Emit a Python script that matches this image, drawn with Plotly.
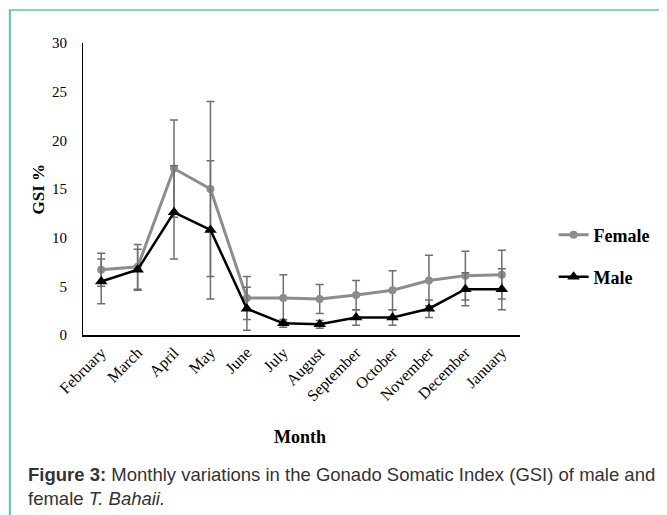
import plotly.graph_objects as go

months = ["February", "March", "April", "May", "June", "July", "August",
          "September", "October", "November", "December", "January"]
female = [6.7, 7.0, 17.1, 15.0, 3.8, 3.8, 3.7, 4.1, 4.6, 5.6, 6.1, 6.2]
female_err = [1.7, 2.3, 5.0, 9.0, 2.2, 2.4, 1.5, 1.5, 2.0, 2.6, 2.5, 2.5]
male = [5.5, 6.7, 12.6, 10.8, 2.7, 1.2, 1.1, 1.8, 1.8, 2.7, 4.7, 4.7]
male_err = [2.3, 2.1, 4.8, 7.1, 2.2, 0.4, 0.4, 0.8, 0.8, 0.9, 1.7, 2.1]
y_ticks = [0, 5, 10, 15, 20, 25, 30]

OFF = 8  # page body margin
W, H = 667 - OFF, 515 - OFF
# target screen coords of plot area: x 83..525, y 43..335
L, T = 83 - OFF, 43 - OFF
pw, ph = 442, 292
R = W - L - pw
B = H - T - ph

def px(x):
    return (x - OFF - L) / pw

def py(y):
    return (T + ph - (y - OFF)) / ph

serif = "Liberation Serif, Times New Roman, serif"
sans = "Liberation Sans, Arial, sans-serif"

fig = go.Figure()
fig.add_trace(go.Scatter(
    x=months, y=female, name="<b>Female</b>", mode="lines+markers",
    line=dict(color="#8c8c8c", width=3),
    marker=dict(symbol="circle", size=8, color="#8c8c8c"),
    error_y=dict(type="data", array=female_err, visible=True,
                 color="#6e6e6e", thickness=1.5, width=4),
    legend="legend",
))
fig.add_trace(go.Scatter(
    x=months, y=male, name="<b>Male</b>", mode="lines+markers",
    line=dict(color="black", width=2.5),
    marker=dict(symbol="triangle-up", size=11, color="black"),
    error_y=dict(type="data", array=male_err, visible=True,
                 color="#6e6e6e", thickness=1.5, width=4),
    legend="legend2",
))

fig.update_layout(
    width=W, height=H,
    margin=dict(l=L, r=R, t=T, b=B),
    paper_bgcolor="white", plot_bgcolor="white",
    showlegend=True,
    legend=dict(x=px(559), y=py(235), yanchor="middle", xanchor="left",
                font=dict(family=serif, size=18, color="black"),
                bgcolor="rgba(0,0,0,0)"),
    legend2=dict(x=px(559), y=py(277), yanchor="middle", xanchor="left",
                 font=dict(family=serif, size=18, color="black"),
                 bgcolor="rgba(0,0,0,0)"),
    xaxis=dict(type="category", range=[-0.5, 11.5], showgrid=False,
               showline=True, linecolor="black", linewidth=2, ticks="",
               tickangle=-45, tickfont=dict(family=serif, size=16, color="black"),
               zeroline=False),
    yaxis=dict(range=[0, 30], tickvals=y_ticks, showgrid=False,
               showline=True, linecolor="black", linewidth=1, ticks="",
               ticklabelstandoff=12,
               tickfont=dict(family=serif, size=15, color="black"),
               zeroline=False),
    shapes=[
        dict(type="line", xref="paper", yref="paper",
             x0=px(8), x1=px(667), y0=py(10), y1=py(10),
             line=dict(color="#7dd6c6", width=2)),
        dict(type="line", xref="paper", yref="paper",
             x0=px(9), x1=px(9), y0=py(10), y1=py(515),
             line=dict(color="#5cbfb0", width=2)),
    ],
    annotations=[
        dict(text="<b>GSI %</b>", xref="paper", yref="paper",
             x=px(37), y=py(189), textangle=-90, showarrow=False,
             font=dict(family=serif, size=17, color="black"),
             xanchor="center", yanchor="middle"),
        dict(text="<b>Month</b>", xref="paper", yref="paper",
             x=px(302), y=py(437), showarrow=False,
             font=dict(family=serif, size=18, color="black"),
             xanchor="center", yanchor="middle"),
        dict(text="<b>Figure 3:</b> Monthly variations in the Gonado Somatic Index (GSI) of male and",
             xref="paper", yref="paper", x=px(25), y=py(474), showarrow=False,
             font=dict(family=sans, size=18.5, color="#333333"),
             xanchor="left", yanchor="middle", align="left"),
        dict(text="female <i>T. Bahaii.</i>",
             xref="paper", yref="paper", x=px(25), y=py(498), showarrow=False,
             font=dict(family=sans, size=18.5, color="#333333"),
             xanchor="left", yanchor="middle", align="left"),
    ],
)

fig.write_html("out.html")
